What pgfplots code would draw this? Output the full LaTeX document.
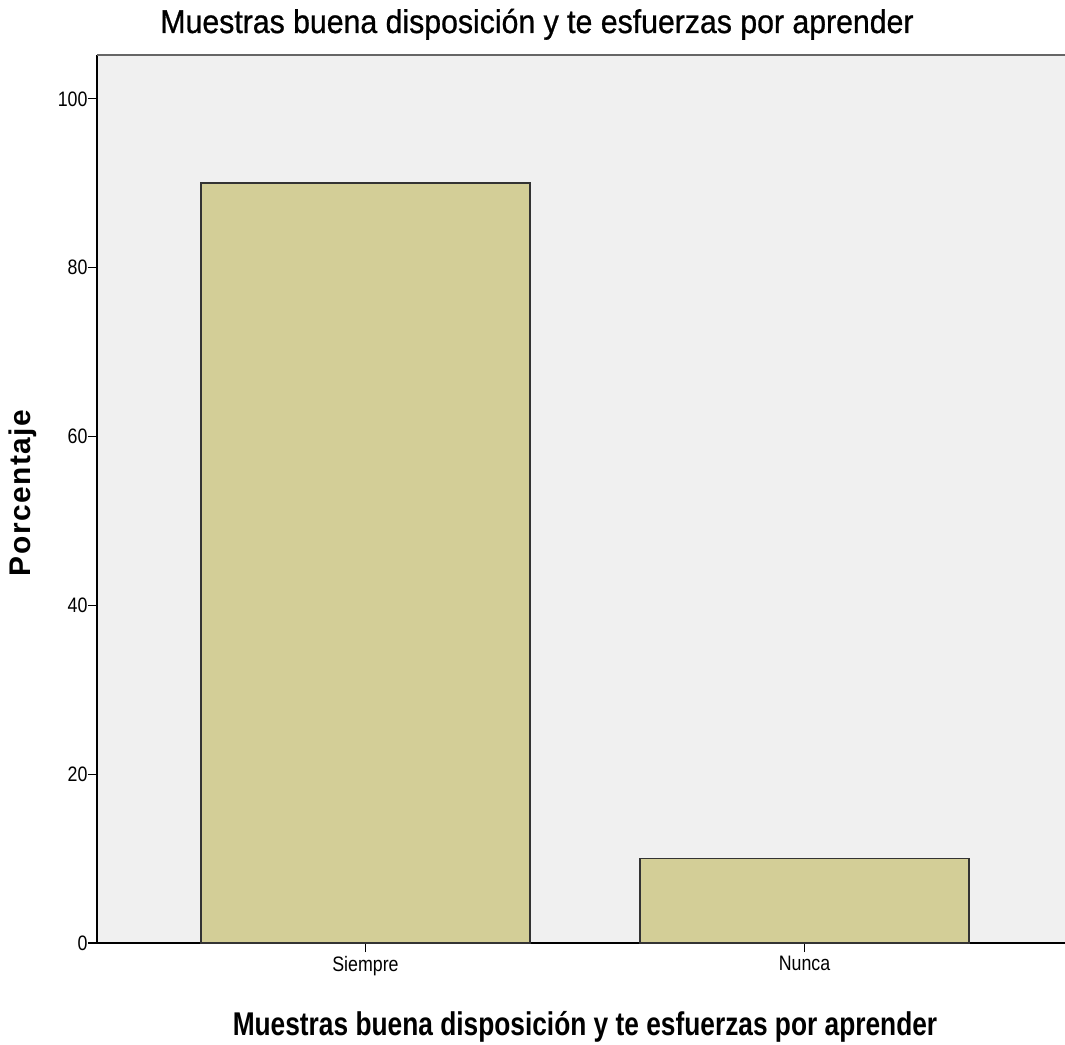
\documentclass[border=0pt]{standalone}
\usepackage{fontspec}
\setmainfont{Liberation Sans}[FakeStretch=0.85]
\newfontfamily\titlefont{Liberation Sans}[FakeStretch=0.92,FakeBold=0.8]
\newfontfamily\xlabfont{Liberation Sans Bold}[FakeStretch=0.8]
\newfontfamily\ylabfont{Liberation Sans Bold}[LetterSpace=5]
\usepackage{pgfplots}
\pgfplotsset{compat=1.18}
\definecolor{barfill}{HTML}{D3CE97}
\definecolor{bg}{HTML}{F0F0F0}
\begin{document}
\begin{tikzpicture}
\useasboundingbox (-97bp,-102bp) rectangle (968bp,943bp);
\begin{axis}[
  at={(0,0)}, anchor=south west,
  scale only axis,
  width=968bp, height=888bp,
  xmin=-0.6116, xmax=1.5934,
  ymin=0, ymax=105.2,
  axis background/.style={fill=bg},
  axis x line*=bottom, axis y line*=left,
  axis line style={black, line width=1.3bp, -},
  ytick={0,20,40,60,80,100},
  xtick={0,1},
  xticklabels={Siempre,Nunca},
  tick align=outside,
  major tick length=9bp,
  tick style={black, line width=1.2bp},
  /pgf/number format/assume math mode=true,
  ticklabel style={font=\fontsize{21}{24}\selectfont},
  yticklabel style={xshift=3bp},
  xticklabel style={yshift=-1bp},
  ybar, bar width=329bp,
  clip=false,
]
\addplot[fill=barfill, draw=black!80, line width=1.6bp] coordinates {(0,90) (1,10)};
\draw[gray!80!black, line width=2.2bp] (rel axis cs:0,1) -- (rel axis cs:1,1);
\end{axis}
\node[anchor=base, font=\titlefont\fontsize{33}{38}\selectfont] at (440bp, 910bp) {Muestras buena disposición y te esfuerzas por aprender};
\node[anchor=base, font=\xlabfont\fontsize{33}{38}\selectfont] at (488bp, -92bp) {Muestras buena disposición y te esfuerzas por aprender};
\node[anchor=base, rotate=90, font=\ylabfont\fontsize{30}{35}\selectfont] at (-66bp, 450bp) {Porcentaje};
\end{tikzpicture}
\end{document}
